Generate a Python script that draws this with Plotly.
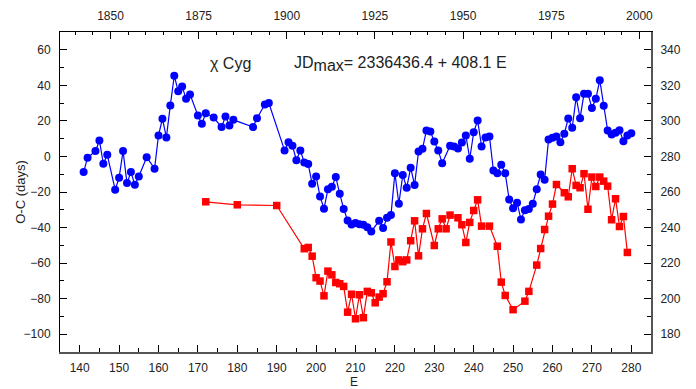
import plotly.graph_objects as go

# ---- data ----
blue_E = [141, 142, 144, 145, 146, 147, 149, 150, 151, 152, 153, 154, 155, 157, 159, 160,
          161, 162, 163, 164, 165, 166, 167, 168, 170, 171, 172, 174, 176, 177, 178, 179,
          184, 185, 187, 188, 192, 193, 194, 195, 196, 197, 198, 199, 200, 201, 202, 203,
          204, 205, 206, 207, 208, 209, 210, 211, 212, 213, 214, 216, 217, 218, 219, 220,
          221, 222, 223, 224, 225, 226, 227, 228, 229, 230, 231, 232, 234, 235, 236, 237,
          238, 239, 240, 241, 242, 243, 244, 245, 246, 247, 248, 249, 250, 251, 252, 253,
          254, 255, 256, 257, 258, 259, 260, 261, 262, 263, 264, 265, 266, 267, 268, 269,
          270, 271, 272, 273, 274, 275, 276, 277, 278, 279, 280]
blue_OC = [-8.8, -0.7, 3.0, 9.0, -4.1, 0.9, -18.7, -12.0, 3.0, -15.0, -8.8, -15.9, -11.3, -0.4, -6.9, 11.8,
           21.2, 10.7, 28.7, 45.4, 36.7, 39.4, 32.4, 34.9, 23.0, 18.4, 24.3, 21.9, 16.5, 22.5, 17.4, 20.6,
           16.5, 21.5, 29.2, 30.0, 3.4, 8.0, 6.0, -2.1, 3.4, -3.4, -4.3, -15.4, -11.3, -22.5, -29.4, -18.5,
           -17.1, -11.6, -21.0, -29.5, -36.0, -38.3, -37.5, -38.1, -38.4, -39.8, -42.2, -36.2, -40.3, -34.5, -33.0, -9.4,
           -26.6, -10.5, -17.6, -6.4, -16.0, 2.8, 4.3, 14.6, 14.0, 8.4, 3.4, -3.8, 6.0, 5.6, 4.5, 7.9,
           11.8, -1.3, 13.6, 20.2, 5.6, 10.7, 11.2, -7.9, -9.4, -4.7, -9.4, -24.2, -29.1, -26.0, -35.4, -30.2,
           -29.6, -26.6, -18.5, -10.1, -13.1, 9.6, 10.5, 11.2, 8.0, 12.8, 21.4, 16.1, 33.3, 21.5, 35.3, 35.3,
           27.2, 32.4, 42.9, 28.5, 14.6, 12.4, 13.3, 14.8, 8.6, 11.8, 13.1]

red_E = [172, 180, 190, 197, 198, 199, 200, 201, 202, 203, 204, 205, 206, 207, 208, 209,
         210, 211, 212, 213, 214, 215, 216, 217, 218, 219, 220, 221, 222, 223, 224, 225,
         226, 227, 228, 230, 231, 232, 233, 234, 236, 237, 238, 239, 240, 241, 242, 244,
         246, 247, 248, 250, 253, 254, 256, 257, 258, 259, 260, 261, 263, 264, 265, 266,
         267, 268, 269, 270, 271, 272, 273, 274, 275, 276, 277, 278, 279]
red_OC = [-25.5, -27.2, -27.6, -51.9, -51.2, -56.1, -68.2, -70.1, -78.4, -64.5, -66.6, -70.9, -71.6, -73.1, -87.6, -77.5,
          -91.3, -77.8, -90.7, -75.9, -76.7, -82.3, -79.1, -77.2, -70.5, -48.1, -61.9, -58.2, -59.2, -58.2, -47.4, -36.2,
          -55.9, -40.7, -32.1, -50.1, -40.7, -35.1, -40.7, -33.0, -34.5, -38.4, -48.4, -37.1, -30.4, -24.4, -39.2, -39.2,
          -50.5, -70.7, -78.2, -86.2, -81.4, -75.9, -61.1, -51.8, -41.1, -33.6, -26.8, -15.8, -20.4, -22.7, -6.9, -16.3,
          -17.6, -9.7, -29.7, -11.6, -16.9, -11.6, -13.9, -16.7, -35.6, -23.8, -39.4, -33.8, -54.0]

E_ticks = list(range(140, 281, 10))
year_ticks = [1850, 1875, 1900, 1925, 1950, 1975, 2000]
left_ticks = list(range(-100, 61, 20))
right_ticks = list(range(180, 341, 20))

# ephemeris: JDmax = 2336436.4 + 408.1 E
JD0 = 2336436.4
PERIOD = 408.1

def e_to_year(e):
    return 2000.0 + (JD0 + PERIOD * e - 2451545.0) / 365.25

E_range = [135, 285]
OC_range = [-110, 70]
OFFSET = 280  # right axis = left axis + 280

font_fam = "Liberation Sans, Arial, sans-serif"
tick_font = dict(family=font_fam, size=12, color="#222222")
label_font = dict(family=font_fam, size=13, color="#222222")

fig = go.Figure()
fig.add_trace(go.Scatter(
    x=red_E, y=red_OC, mode="lines+markers",
    line=dict(color="#FF0000", width=1.2),
    marker=dict(symbol="square", size=7.5, color="#FF0000"),
    showlegend=False))
fig.add_trace(go.Scatter(
    x=blue_E, y=blue_OC, mode="lines+markers",
    line=dict(color="#0000FF", width=1.2),
    marker=dict(symbol="circle", size=8, color="#0000FF"),
    showlegend=False))
# invisible traces to activate secondary axes
fig.add_trace(go.Scatter(x=[e_to_year(E_range[0])], y=[OC_range[0]], xaxis="x2", yaxis="y",
                         mode="markers", marker=dict(opacity=0), showlegend=False, hoverinfo="skip"))
fig.add_trace(go.Scatter(x=[E_range[0]], y=[OC_range[0] + OFFSET], xaxis="x", yaxis="y2",
                         mode="markers", marker=dict(opacity=0), showlegend=False, hoverinfo="skip"))

common = dict(showgrid=False, zeroline=False, ticks="inside", ticklen=7, tickwidth=1,
              tickcolor="#000000", tickfont=tick_font, automargin=False)

fig.update_layout(
    width=696, height=389,
    margin=dict(l=60, r=45, t=32, b=37),
    plot_bgcolor="white", paper_bgcolor="white",
    xaxis=dict(range=E_range, tickvals=E_ticks, showline=True, linecolor="#555555", linewidth=2,
               minor=dict(ticks="inside", ticklen=4, dtick=5, tick0=0, tickcolor="#000000"),
               ticklabelstandoff=4, **common),
    xaxis2=dict(range=[e_to_year(E_range[0]), e_to_year(E_range[1])], overlaying="x", side="top",
                tickvals=year_ticks, showline=True, linecolor="#000000", linewidth=1,
                minor=dict(ticks="inside", ticklen=3, dtick=5, tick0=0, tickcolor="#000000"),
                ticklabelstandoff=6, **common),
    yaxis=dict(range=OC_range, tickvals=left_ticks, showline=True, linecolor="#000000", linewidth=1,
               minor=dict(ticks="inside", ticklen=4, dtick=10, tick0=0, tickcolor="#000000"),
               ticklabelstandoff=6, **common),
    yaxis2=dict(range=[OC_range[0] + OFFSET, OC_range[1] + OFFSET], overlaying="y", side="right",
                tickvals=right_ticks, showline=True, linecolor="#555555", linewidth=2,
                minor=dict(ticks="inside", ticklen=4, dtick=10, tick0=0, tickcolor="#000000"),
                ticklabelstandoff=5, **common),
    annotations=[
        dict(text="E", x=0.497, y=-0.094, xref="paper", yref="paper", xanchor="center",
             yanchor="middle", showarrow=False, font=dict(family=font_fam, size=12, color="#222222")),
        dict(text="O-C (days)", x=-0.068, y=0.5, xref="paper", yref="paper", xanchor="center",
             yanchor="middle", textangle=-90, showarrow=False, font=label_font),
        dict(text="\u03c7 Cyg", x=178.2, y=52.5, xref="x", yref="y", xanchor="center",
             yanchor="middle", showarrow=False, font=dict(family=font_fam, size=16, color="#222222")),
        dict(text="JD<sub><span style='font-size:16px'>max</span></sub>= 2336436.4 + 408.1 E",
             x=194.0, y=52.0, xref="x", yref="y",
             xanchor="left", yanchor="middle", showarrow=False,
             font=dict(family=font_fam, size=16, color="#222222")),
    ],
)

fig.write_html("out.html", config={"displayModeBar": False},
               post_script="document.body.style.margin='0';document.body.style.overflow='hidden';")
